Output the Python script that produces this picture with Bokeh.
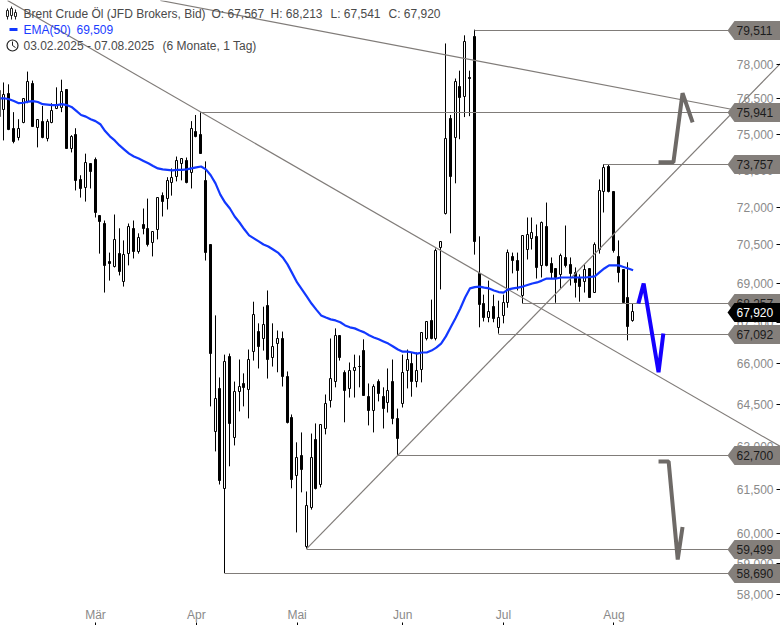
import math
from bokeh.core.properties import value
from bokeh.embed import file_html
from bokeh.models import FixedTicker, LinearAxis, LogAxis, NumeralTickFormatter, Range1d
from bokeh.plotting import figure
from bokeh.resources import INLINE

open_ = [76830,76020,76700,75210,74830,75460,76360,77120,75250,75500,
         74790,75460,76060,76100,76870,74400,74960,73090,72760,73750,
         73910,71630,71350,69850,69620,70160,69070,70160,71120,70240,
         71310,71120,70560,71080,72470,72350,72970,73220,73750,73870,
         73380,75080,74960,73050,70480,63490,65040,61500,66240,63280,
         64930,65220,65000,66420,67170,66880,68150,66200,66690,66880,
         65470,63990,61980,62670,59570,60850,63210,61640,63600,64630,
         65290,66990,65620,65040,65690,65870,66460,64770,64240,65290,
         64770,64560,65290,63960,64490,65690,65980,65290,65730,66880,
         67550,66910,70400,71750,75630,74830,76990,76570,77410,79170,
         69350,68230,67700,68110,67290,67740,68260,70010,69890,68500,
         70320,70720,70800,69660,71200,69740,69550,69310,69970,69700,
         69390,69190,69040,69550,68650,70320,72600,73620,72600,70010,
         69510,68460,67567]
high = [77840,77200,77120,75930,75630,76520,77670,77280,75630,76190,
        75630,76310,76990,77320,76910,74960,75250,73300,74190,73790,
        74030,71670,71470,70200,71710,71160,70680,71350,71470,70960,
        71950,72350,71040,72390,72600,73220,73580,74070,73950,74030,
        75550,75810,75930,73870,70480,67780,65470,66310,66350,65320,
        66130,65620,66500,68300,67480,68110,68730,67480,67210,67170,
        65690,64130,63140,63490,61430,63450,63810,63780,64850,66910,
        67290,67030,65730,66020,66310,66280,66880,65250,65220,65400,
        65110,65800,66130,64340,66310,66500,66390,66390,67140,67550,
        68380,70360,70640,78900,75810,77370,77710,79260,77710,79511,
        70840,68570,69110,68570,68340,68570,70320,70200,70200,70880,
        71590,71590,71310,71430,72190,70010,69550,70160,71270,70010,
        69620,69350,69740,69550,70600,73130,73757,73757,72600,70680,
        69510,69820,68213]
low = [75720,74740,75170,74620,74740,75460,76310,75300,74450,74830,
       74700,75460,76060,75930,74400,74240,72680,72390,72230,72760,
       71590,70160,68650,69110,69620,69310,68880,69700,69970,70160,
       70920,70440,70050,70720,71630,71910,72470,73050,73090,72970,
       72760,74870,74190,69890,64420,62820,61670,58690,62300,63030,
       64240,64420,63990,66090,65800,66460,65430,65870,65660,65140,
       63810,61540,60040,61400,59499,60810,61500,61570,63420,64380,
       65110,66090,63850,64740,64740,65110,64810,63740,63490,64600,
       63630,64200,63780,62700,64380,65070,64770,65110,65290,66840,
       66880,66840,68770,71710,70960,72970,74790,75720,75760,70120,
       67330,67550,67520,67520,67092,67480,68070,69390,68730,68230,
       69930,70320,69190,69230,69660,69190,68260,68810,69620,68920,
       68460,68300,68650,68460,68650,70160,71790,72600,70200,69040,
       68230,66840,67541]
close = [75720,76650,75170,74660,75210,76480,77240,75300,75590,74830,
         75500,75980,76230,76780,74400,74870,73050,72720,73790,73420,
         71790,71430,69660,69740,70680,69430,70120,71200,70240,70760,
         71120,70480,71000,72390,72230,73050,73170,73870,73950,72970,
         75210,74870,74190,70200,66350,64700,61780,66050,63780,64930,
         65110,65070,66130,67810,66610,67400,66130,66610,66880,65470,
         63810,61810,62600,62160,60920,62600,61500,63740,64490,65400,
         66990,66170,64960,65690,65800,65840,64810,64240,65110,64850,
         64340,64960,63960,63240,65620,66130,65290,65690,67100,67520,
         66910,70280,70600,74790,73220,77200,76520,78950,77370,70600,
         68190,67700,67920,67630,67700,68260,70200,69890,69470,70840,
         70880,70960,69580,71390,69660,69390,69230,70080,69660,69350,
         69000,68880,69510,68460,70480,72640,73580,72600,70280,69390,
         68260,67360,67920]
ema50 = [76520,76520,76480,76400,76310,76330,76380,76400,76360,76270,
         76250,76230,76230,76270,76230,76150,75980,75810,75740,75630,
         75550,75420,75130,74910,74740,74530,74360,74190,74070,73990,
         73890,73790,73680,73580,73540,73520,73500,73520,73520,73540,
         73580,73620,73660,73540,73300,72970,72510,72190,71950,71630,
         71390,71120,70880,70760,70640,70520,70440,70320,70200,70010,
         69740,69390,69040,68770,68500,68230,68000,67780,67700,67630,
         67590,67520,67400,67330,67290,67210,67140,67030,66950,66880,
         66800,66720,66610,66500,66420,66420,66390,66350,66390,66390,
         66460,66570,66720,66990,67330,67670,68040,68460,68810,68860,
         68880,68840,68810,68730,68670,68650,68770,68810,68840,68880,
         68940,69000,69040,69110,69190,69190,69190,69230,69230,69230,
         69230,69230,69230,69250,69270,69430,69580,69700,69700,69700,
         69640,69580,69509]

month_idx = [20, 41, 62, 84, 105, 128]
month_labels = ["Mär", "Apr", "Mai", "Jun", "Jul", "Aug"]
price_ticks = [81000,78000,76500,75000,73500,72000,70500,69000,67500,66000,64500,63000,61500,60000,59000,58000]

level_price = [79511, 75941, 73757, 68257, 67092, 62700, 59499, 58690]
level_start = [99, 42, 126, 109, 104, 83, 64, 47]
level_text = ["79,511", "75,941", "73,757", "68,257", "67,092", "62,700", "59,499", "58,690"]
last_price = 67920

trend_x = [[1.67, 162.7], [33.5, 153.3], [64, 162.7]]
trend_y = [[80817, 62990], [80817, 76020], [59499, 78020]]

up_x, up_y = [137.3, 140.4, 142.3, 144.4], [73830, 73830, 76740, 75500]
dn_x, dn_y = [137.3, 139.4, 141.3, 142.3], [62470, 62470, 59140, 60220]
bl_x, bl_y = [133.1, 134.2, 137.3, 138.3], [68230, 69000, 65660, 67100]

# scale constants of the reference: px per candle, px per unit of ln(price)
PXI, PXL, P0, Y0 = 4.8, 1790.0, 78000.0, 63.5
def dx(px): return (px + 1) / PXI
def dy(py): return P0 * math.exp(-(py - Y0) / PXL)
def sx(i): return math.floor(PXI * i - 1)                 # crisp pixel column of a candle
def sy(price): return math.floor(Y0 + PXL * math.log(P0 / price))  # crisp pixel row

W, H = 780, 625
p = figure(width=W, height=H, x_range=Range1d(dx(0), dx(W)), y_range=Range1d(dy(H), dy(0)),
           y_axis_type="log", x_axis_location=None, y_axis_location=None,
           toolbar_location=None, output_backend="svg", min_border=0,
           outline_line_color=None, background_fill_color="white")
p.styles = {"position": "absolute", "left": "0px", "top": "0px"}
p.xgrid.visible = False
p.ygrid.visible = False

n = len(close)
idx = list(range(n))
up = [close[i] >= open_[i] for i in idx]
cx_ = [dx(sx(i)) for i in idx]
p.segment(cx_, high, cx_, low, line_color="black", line_width=1)
tops = [dy(sy(max(open_[i], close[i]))) for i in idx]
bots = [dy(sy(min(open_[i], close[i]))) for i in idx]
fills = ["white" if u else "black" for u in up]
p.quad(left=[dx(sx(i) - 1) for i in idx], right=[dx(sx(i) + 1) for i in idx], top=tops, bottom=bots,
       fill_color=fills, line_color="black", line_width=1)

GR = "#807c79"
for tx, ty in zip(trend_x, trend_y):
    p.line(tx, ty, line_color=GR, line_width=1.2)
for lp, ls in zip(level_price, level_start):
    yy = dy(sy(lp) + 1)
    p.line([dx(sx(ls)), dx(730)], [yy, yy], line_color=GR, line_width=1)

p.line(idx[:len(ema50)], ema50, line_color="#1238ff", line_width=2.2)

p.line(up_x, up_y, line_color="#6e6a67", line_width=4, line_join="bevel")
p.line(dn_x, dn_y, line_color="#6e6a67", line_width=4, line_join="bevel")
p.line(bl_x, bl_y, line_color="#1500ff", line_width=4, line_join="bevel")

yax = LogAxis(fixed_location=dx(776), ticker=FixedTicker(ticks=price_ticks),
              formatter=NumeralTickFormatter(format="0,0"))
yax.axis_line_color = None
yax.major_tick_in = 4
yax.major_tick_out = 0
yax.minor_tick_in = 0
yax.minor_tick_out = 0
yax.major_tick_line_color = "black"
yax.major_label_standoff = 3
yax.major_label_text_color = "#8a8a8a"
yax.major_label_text_font = "Liberation Sans"
yax.major_label_text_font_size = "12px"
p.add_layout(yax, "left")

xax = LinearAxis(fixed_location=dy(622), ticker=FixedTicker(ticks=month_idx),
                 major_label_overrides=dict(zip(month_idx, month_labels)))
xax.axis_line_color = None
xax.major_tick_in = 3
xax.major_tick_out = 0
xax.minor_tick_in = 0
xax.minor_tick_out = 0
xax.major_tick_line_color = "black"
xax.major_label_standoff = 1
xax.major_label_text_color = "#8a8a8a"
xax.major_label_text_font = "Liberation Sans"
xax.major_label_text_font_size = "12px"
p.add_layout(xax, "above")

def flag(price):
    f_up = math.exp(9.5 / PXL)
    return ([dx(727), dx(734), dx(781), dx(781), dx(734)],
            [price, price * f_up, price * f_up, price / f_up, price / f_up])

flag_prices = level_price[:4] + [last_price] + level_price[4:]
flag_texts = level_text[:4] + ["67,920"] + level_text[4:]
for fp, ft in zip(flag_prices, flag_texts):
    yy = dy(sy(fp) + 1)
    fx, fy = flag(yy)
    last = fp == last_price
    p.patch(fx, fy, fill_color="black" if last else "#847f7b", line_color=None, level="overlay")
    p.text([dx(736)], [yy], text=[ft], text_color="white" if last else "#1c1c1c",
           text_font=value("Liberation Sans"), text_font_size="12px",
           text_baseline="middle", text_align="left", level="overlay")

TC = "#4a4a4a"
def tt(px, py, s, color=TC):
    p.text([dx(px)], [dy(py)], text=[s], text_color=color, text_font=value("Liberation Sans"),
           text_font_size="12px", text_baseline="middle", text_align="left", level="overlay")

tt(23, 13, "Brent Crude Öl (JFD Brokers, Bid)")
tt(211, 13, "O: 67,567")
tt(270, 13, "H: 68,213")
tt(330, 13, "L: 67,541")
tt(388, 13, "C: 67,920")
tt(23, 29, "EMA(50)", "#1a3cff")
tt(76, 29, "69,509", "#1a3cff")
tt(23, 45, "03.02.2025 - 07.08.2025")
tt(162, 45, "(6 Monate, 1 Tag)")

# legend icons
p.line([dx(9), dx(17)], [dy(29), dy(29)], line_color="#1238ff", line_width=3, level="overlay")
for cx, a, b, c, d in [(7, 8, 10, 16, 19), (11, 6, 8, 15, 19), (15, 9, 12, 16, 19)]:
    p.line([dx(cx), dx(cx)], [dy(a), dy(d)], line_color="#222222", line_width=1, level="overlay")
    p.quad(left=[dx(cx - 1)], right=[dx(cx + 1)], top=[dy(b)], bottom=[dy(c)],
           fill_color="white", line_color="#222222", line_width=1, level="overlay")
p.scatter([dx(12)], [dy(45)], marker="circle", size=11, fill_color=None, line_color="#222222",
          line_width=1.2, level="overlay")
p.line([dx(12), dx(12), dx(15)], [dy(41), dy(45), dy(47)], line_color="#222222", line_width=1, level="overlay")

open("out.html", "w").write(file_html(p, INLINE))
